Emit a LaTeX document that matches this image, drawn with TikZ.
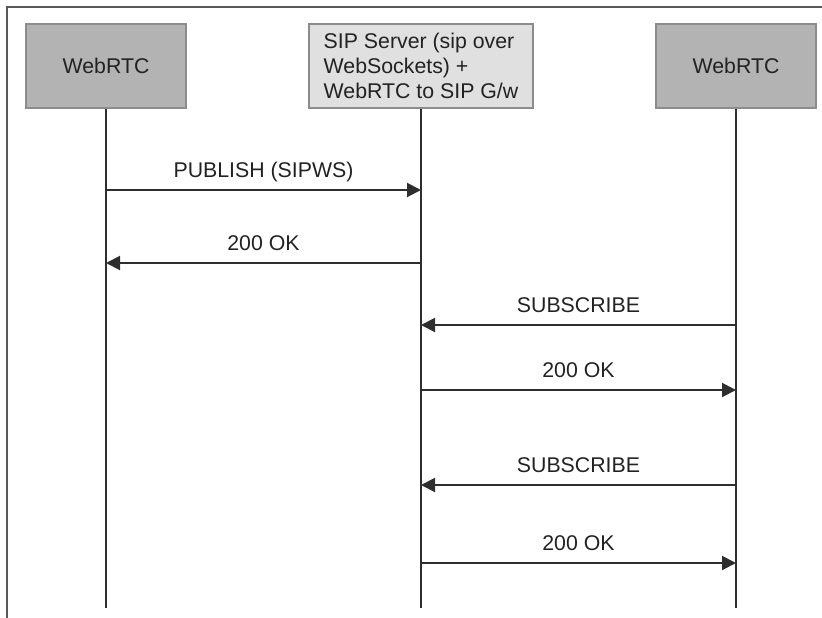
\documentclass[tikz,border=0pt]{standalone}
\usepackage{fontspec}
\setmainfont{Liberation Sans}
\usetikzlibrary{arrows.meta, positioning}

\definecolor{darkbox}{HTML}{B3B3B3}
\definecolor{lightbox}{HTML}{E0E0E0}
\definecolor{boxline}{HTML}{8C8C8C}
\definecolor{lineclr}{HTML}{2E2E2E}
\definecolor{textclr}{HTML}{222222}

\begin{document}
\begin{tikzpicture}[x=1pt, y=-1pt,
                actor/.style={rectangle, draw=boxline, fill=darkbox, line width=1.2pt, minimum width=160pt, minimum height=84pt, text=textclr, font=\fontsize{21.3}{25}\selectfont, align=center},
                server/.style={actor, fill=lightbox, minimum width=224pt, align=left},
                life/.style={draw=lineclr, line width=1.3pt},
                msg/.style={draw=lineclr, line width=2pt, -{Triangle[length=14pt,width=14pt]}},
                lbl/.style={midway, anchor=base, yshift=12.5pt, text=textclr, font=\fontsize{21.3}{25}\selectfont}
            ]
                \useasboundingbox (0,0) rectangle (822,618);

                % Frame
                \draw[draw=lineclr!80, line width=1.2pt] (822,7) -- (7,7) -- (7,618);

                % Nodes
                \node[actor] (wa) at (106,66) {WebRTC};
                \node[server] (sip) at (421,66) {SIP Server (sip over\\WebSockets) +\\WebRTC to SIP G/w};
                \node[actor] (wb) at (736,66) {WebRTC};

                % Lifelines
                \coordinate[below=499pt of wa.south] (wa-end);
                \coordinate[below=499pt of sip.south] (sip-end);
                \coordinate[below=499pt of wb.south] (wb-end);

                \draw[life] (wa.south) -- (wa-end);
                \draw[life] (sip.south) -- (sip-end);
                \draw[life] (wb.south) -- (wb-end);

                % Messages
                \coordinate (wa-1) at (wa |- 0,190);
                \coordinate (sip-1) at (sip |- 0,190);
                \coordinate (wa-2) at (wa |- 0,263);
                \coordinate (sip-2) at (sip |- 0,263);
                \coordinate (sip-3) at (sip |- 0,325);
                \coordinate (wb-3) at (wb |- 0,325);
                \coordinate (sip-4) at (sip |- 0,390);
                \coordinate (wb-4) at (wb |- 0,390);
                \coordinate (sip-5) at (sip |- 0,485);
                \coordinate (wb-5) at (wb |- 0,485);
                \coordinate (sip-6) at (sip |- 0,563);
                \coordinate (wb-6) at (wb |- 0,563);

                \draw[msg] (wa-1) -- (sip-1) node[lbl] {PUBLISH (SIPWS)};
                \draw[msg] (sip-2) -- (wa-2) node[lbl] {200 OK};
                \draw[msg] (wb-3) -- (sip-3) node[lbl] {SUBSCRIBE};
                \draw[msg] (sip-4) -- (wb-4) node[lbl] {200 OK};
                \draw[msg] (wb-5) -- (sip-5) node[lbl] {SUBSCRIBE};
                \draw[msg] (sip-6) -- (wb-6) node[lbl] {200 OK};
            \end{tikzpicture}
\end{document}
